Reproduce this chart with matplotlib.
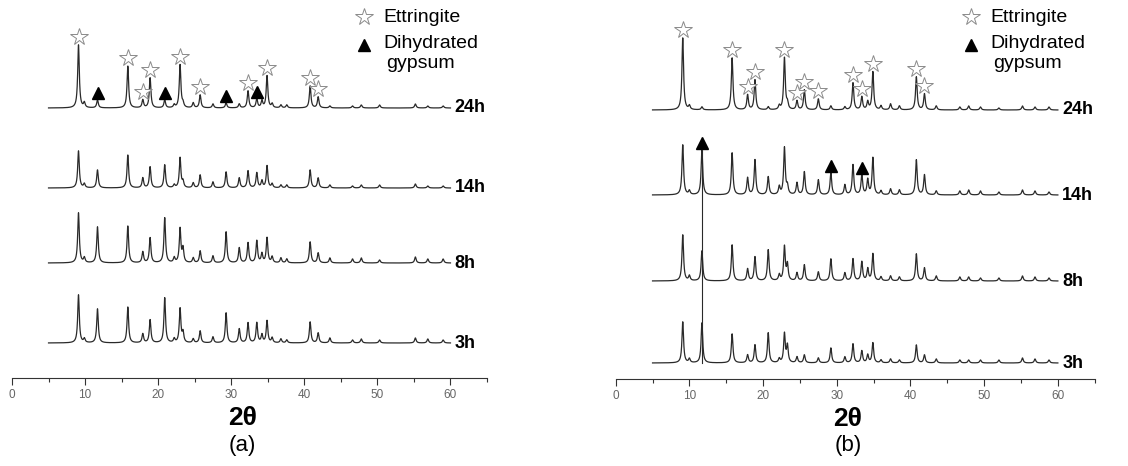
import numpy as np
import matplotlib.pyplot as plt

plt.rcParams['font.family'] = ['Liberation Sans', 'DejaVu Sans']

two_theta = np.arange(5, 60.001, 0.02)
times = ["24h", "14h", "8h", "3h"]

# panel (a): reflection positions (2theta) and peak heights for each curing time
pos_a = [9.1, 9.9, 11.7, 15.85, 17.9, 18.9, 20.9, 22.2, 23.0, 23.4, 24.8, 25.75, 27.5, 29.3, 31.1,
         32.3, 33.5, 34.2, 34.9, 35.6, 36.8, 37.6, 40.8, 41.9, 43.5, 46.6, 47.8, 50.3, 55.2, 56.9, 59.0]
heights_a = {
    "24h": [63, 5, 8, 42, 8, 30, 8, 3, 43, 4, 5, 13, 4, 5, 4, 17, 9, 7, 32, 4, 3, 3, 22, 11, 2, 2, 3, 3, 4, 2, 2],
    "14h": [37, 4, 18, 33, 10, 21, 23, 3, 30, 6, 5, 13, 6, 16, 10, 17, 15, 7, 22, 4, 3, 3, 18, 10, 3, 2, 3, 3, 4, 2, 2],
    "8h":  [50, 5, 36, 37, 11, 25, 45, 5, 34, 14, 5, 12, 7, 31, 15, 20, 22, 9, 25, 6, 5, 4, 21, 10, 5, 4, 5, 3, 6, 4, 4],
    "3h":  [48, 4, 34, 36, 9, 23, 45, 4, 34, 10, 4, 12, 6, 30, 14, 20, 20, 8, 22, 5, 4, 3, 21, 10, 5, 3, 4, 3, 5, 4, 3],
}
offsets_a = {"24h": 270, "14h": 190, "8h": 115, "3h": 35}
ettringite_a = [9.1, 15.85, 17.9, 18.9, 23.0, 25.75, 32.3, 34.9, 40.8, 41.9]   # marked on 24h
gypsum_a = [11.7, 20.9, 29.3, 33.5]                                            # marked on 24h

# panel (b)
pos_b = [9.1, 10.0, 11.7, 15.8, 17.9, 18.9, 20.7, 22.2, 22.9, 23.3, 24.6, 25.6, 27.5, 29.2, 31.1, 32.2,
         33.4, 34.2, 34.9, 36.0, 37.3, 38.5, 40.8, 41.9, 43.5, 46.7, 47.9, 49.5, 52.0, 55.2, 56.9, 58.8]
heights_b = {
    "24h": [72, 4, 3, 52, 15, 30, 3, 4, 52, 6, 9, 20, 11, 4, 3, 27, 13, 8, 38, 4, 6, 4, 33, 16, 4, 3, 4, 3, 2, 4, 3, 3],
    "14h": [50, 4, 45, 42, 17, 35, 18, 8, 47, 8, 12, 23, 15, 22, 10, 30, 20, 15, 37, 4, 6, 5, 35, 20, 4, 4, 5, 4, 3, 5, 4, 3],
    "8h":  [46, 5, 30, 36, 12, 24, 31, 6, 34, 16, 8, 16, 9, 22, 8, 22, 19, 12, 27, 4, 5, 4, 27, 13, 5, 4, 4, 3, 3, 5, 4, 3],
    "3h":  [41, 4, 40, 29, 8, 18, 30, 4, 29, 17, 6, 8, 5, 15, 6, 19, 12, 8, 20, 3, 4, 3, 18, 8, 4, 3, 3, 3, 3, 5, 4, 3],
}
offsets_b = {"24h": 269, "14h": 184, "8h": 98, "3h": 16}
ettringite_b = [9.1, 15.8, 17.9, 18.9, 22.9, 24.6, 25.6, 27.5, 32.2, 33.4, 34.9, 40.8, 41.9]  # on 24h
gypsum_b = [11.7, 29.2, 33.4]                                                                   # on 14h


def pattern(pos, hts, width=0.13):
    y = np.zeros_like(two_theta)
    for p, h in zip(pos, hts):
        y += h / (1 + ((two_theta - p) / width) ** 2)
    return y


fig = plt.figure(figsize=(11.28, 4.66), dpi=100)
ax_a = fig.add_axes([12 / 1128, 88 / 466, 475 / 1128, 378 / 466])
ax_b = fig.add_axes([615.7 / 1128, 87 / 466, 479 / 1128, 379 / 466])

panels = [
    (ax_a, pos_a, heights_a, offsets_a, ettringite_a, gypsum_a, "24h", "(a)", 378),
    (ax_b, pos_b, heights_b, offsets_b, ettringite_b, gypsum_b, "14h", "(b)", 379),
]

for ax, pos, heights, offsets, ett, gyp, gyp_curve, tag, top in panels:
    for t in times:
        ax.plot(two_theta, offsets[t] + pattern(pos, heights[t]), color="#2a2a2a", lw=0.9)
        ax.text(60.6, offsets[t], t, fontsize=13, fontweight="bold", va="center", ha="left")

    h24 = heights["24h"]
    ax.plot(ett, [offsets["24h"] + h24[pos.index(p)] + 8 for p in ett], ls="none",
            marker="*", ms=13, mfc="white", mec="#8a8a8a", mew=0.7)
    hg = heights[gyp_curve]
    ax.plot(gyp, [offsets[gyp_curve] + hg[pos.index(p)] + 7 for p in gyp], ls="none",
            marker="^", ms=8, color="black")

    # legend
    ax.plot([48.2], [top - 17], marker="*", ms=13, mfc="white", mec="#8a8a8a", mew=0.7,
            clip_on=False)
    ax.plot([48.2], [top - 45], marker="^", ms=8, color="black", clip_on=False)
    ax.text(50.8, top - 17, "Ettringite", fontsize=14, va="center", ha="left")
    ax.text(50.8, top - 44, "Dihydrated", fontsize=14, va="center", ha="left")
    ax.text(51.2, top - 63, "gypsum", fontsize=14, va="center", ha="left")

    ax.text(31.5, -40, "2\u03b8", fontsize=19, fontweight="bold", ha="center", va="center")
    ax.text(31.5, -67, tag, fontsize=16, ha="center", va="center")

    ax.set_xlim(0, 65)
    ax.set_ylim(0, top)
    ax.set_xticks(np.arange(0, 61, 10))
    ax.set_xticks(np.arange(5, 66, 10), minor=True)
    ax.tick_params(axis="x", which="major", length=5, width=0.8, pad=3, labelsize=8.5,
                   labelcolor="#666666", color="#333333")
    ax.tick_params(axis="x", which="minor", length=3, width=0.8, color="#333333")
    ax.set_yticks([])
    for s in ["left", "right", "top"]:
        ax.spines[s].set_visible(False)
    ax.spines["bottom"].set_color("#333333")
    ax.spines["bottom"].set_linewidth(0.8)
    ax.patch.set_alpha(0)

# guide line in (b) from the 3h baseline up to the 14h gypsum reflection
g0 = gypsum_b[0]
ax_b.plot([g0, g0], [offsets_b["3h"], offsets_b["14h"] + heights_b["14h"][pos_b.index(g0)]],
          color="#2a2a2a", lw=0.8)

fig.savefig("out.png", dpi=100)
